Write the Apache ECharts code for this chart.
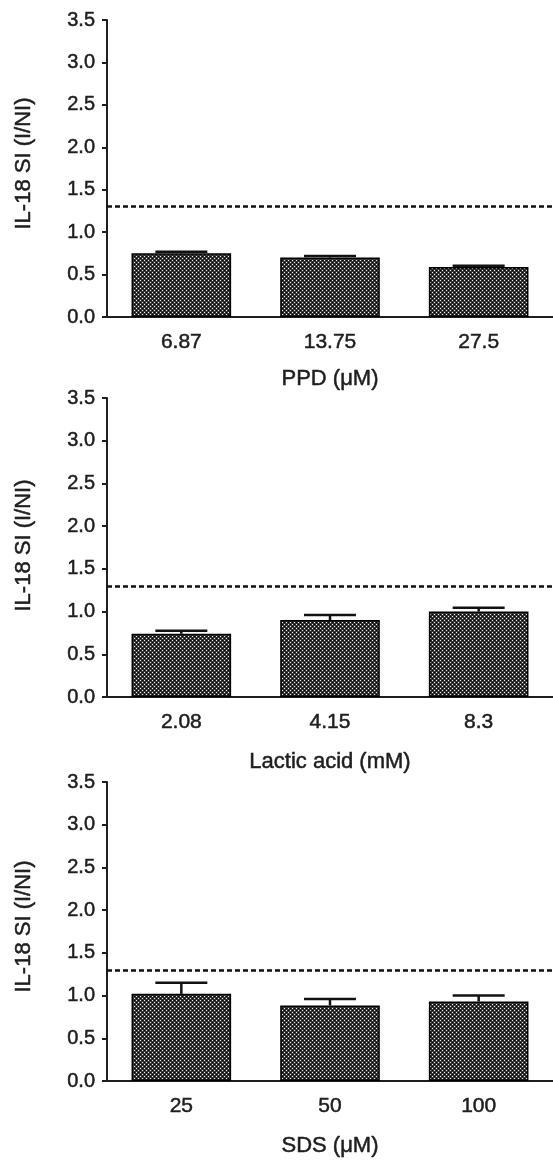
<!DOCTYPE html>
<html>
<head>
<meta charset="utf-8">
<script src="https://cdn.jsdelivr.net/npm/echarts@6/dist/echarts.min.js"></script>
<style>
  html, body { margin: 0; padding: 0; background: #fff; }
  #chart { width: 553px; height: 1162px; }
</style>
</head>
<body>
<div id="chart"></div>
<script>
// IL-18 stimulation index per dose, mean and SEM
const ppdDoses = ['6.87', '13.75', '27.5'];
const ppdMean = [0.75, 0.70, 0.59];
const ppdSem = [0.02, 0.02, 0.015];

const lacticDoses = ['2.08', '4.15', '8.3'];
const lacticMean = [0.74, 0.90, 1.00];
const lacticSem = [0.035, 0.06, 0.045];

const sdsDoses = ['25', '50', '100'];
const sdsMean = [1.02, 0.885, 0.93];
const sdsSem = [0.13, 0.075, 0.07];

const threshold = 1.3;
const yMin = 0, yMax = 3.5, yStep = 0.5;

const panelNames = ['PPD (μM)', 'Lactic acid (mM)', 'SDS (μM)'];
const yName = 'IL-18 SI (I/NI)';

const panels = [
  { cats: ppdDoses, mean: ppdMean, sem: ppdSem, name: panelNames[0] },
  { cats: lacticDoses, mean: lacticMean, sem: lacticSem, name: panelNames[1] },
  { cats: sdsDoses, mean: sdsMean, sem: sdsSem, name: panelNames[2] }
];

// stippled fill for the bars
function stipple() {
  const c = document.createElement('canvas');
  c.width = 4; c.height = 4;
  const g = c.getContext('2d');
  g.fillStyle = '#333333'; g.fillRect(0, 0, 4, 4);
  g.fillStyle = '#eeeeee'; g.fillRect(0, 0, 1, 1); g.fillRect(2, 2, 1, 1);
  g.fillStyle = '#000'; g.fillRect(2, 0, 1, 1); g.fillRect(0, 2, 1, 1);
  return c;
}
const fill = { image: stipple(), repeat: 'repeat' };

const FONT = 'Liberation Sans, Arial, Helvetica, sans-serif';
const INK = '#1e1e1e';
// a thin outline in the text colour gives the labels a slightly heavier stroke
const heavy = { textBorderColor: INK, textBorderWidth: 0.5 };
const grids = [
  { left: 107, top: 20, width: 450, height: 297 },
  { left: 107, top: 398, width: 450, height: 299 },
  { left: 107, top: 782, width: 450, height: 299 }
];

const xAxes = [], yAxes = [], series = [];
panels.forEach((p, i) => {
  xAxes.push({
    type: 'category', gridIndex: i, data: p.cats,
    name: p.name, nameLocation: 'middle', nameGap: i === 0 ? 51 : 54,
    nameTextStyle: Object.assign({ fontFamily: FONT, fontSize: 22, color: INK }, heavy),
    axisLine: { lineStyle: { color: INK, width: 2 } },
    axisTick: { alignWithLabel: true, length: 6, lineStyle: { color: INK, width: 2 } },
    axisLabel: Object.assign({ fontFamily: FONT, fontSize: 21, color: INK, margin: 15 }, heavy),
    splitLine: { show: false }
  });
  yAxes.push({
    type: 'value', gridIndex: i, min: yMin, max: yMax, interval: yStep,
    name: yName, nameLocation: 'middle', nameGap: 72,
    nameTextStyle: Object.assign({ fontFamily: FONT, fontSize: 22, color: INK,
                                   padding: [0, 0, 0, i === 1 ? 4 : 10] }, heavy),
    axisLine: { show: true, lineStyle: { color: INK, width: 2 } },
    axisTick: { show: true, length: 5, lineStyle: { color: INK, width: 2 } },
    axisLabel: Object.assign({ fontFamily: FONT, fontSize: 20, color: INK, margin: 12,
                               formatter: v => v.toFixed(1) }, heavy),
    splitLine: { show: false }
  });
  series.push({
    type: 'bar', xAxisIndex: i, yAxisIndex: i, data: p.mean,
    barCategoryGap: '33%',
    itemStyle: { color: fill, borderColor: '#000', borderWidth: 1.5 },
    markLine: {
      silent: true, symbol: 'none', label: { show: false },
      lineStyle: { color: '#111', width: 2.5, type: [5, 3] },
      data: [{ yAxis: threshold }]
    }
  });
  series.push({
    type: 'custom', xAxisIndex: i, yAxisIndex: i, z: 5,
    data: p.mean.map((m, k) => [k, m, m + p.sem[k]]),
    renderItem: (params, api) => {
      const base = api.coord([api.value(0), api.value(1)]);
      const top = api.coord([api.value(0), api.value(2)]);
      const half = 26;
      const style = { stroke: '#111', lineWidth: 2.5 };
      return {
        type: 'group',
        children: [
          { type: 'line', shape: { x1: base[0], y1: base[1], x2: top[0], y2: top[1] }, style },
          { type: 'line', shape: { x1: top[0] - half, y1: top[1], x2: top[0] + half, y2: top[1] }, style }
        ]
      };
    }
  });
});

const chart = echarts.init(document.getElementById('chart'));
chart.setOption({
  animation: false,
  backgroundColor: '#fff',
  grid: grids,
  xAxis: xAxes,
  yAxis: yAxes,
  series: series
});
</script>
</body>
</html>
